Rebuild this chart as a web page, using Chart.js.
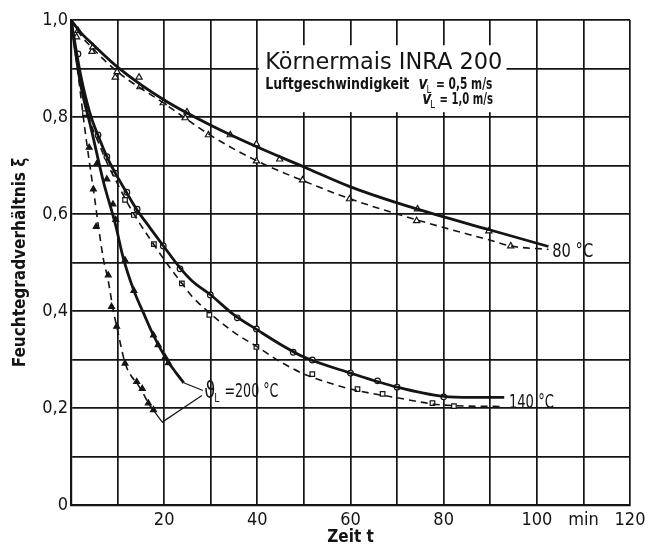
<!DOCTYPE html>
<html>
<head>
<meta charset="utf-8">
<script src="https://cdn.jsdelivr.net/npm/chart.js@4.4.1/dist/chart.umd.min.js"></script>
<style>
  html, body { margin: 0; padding: 0; background: #fff; }
  #wrap { width: 658px; height: 550px; }
</style>
</head>
<body>
<div id="wrap"><canvas id="chart" width="658" height="550"></canvas></div>
<script>
// drying curves, Zeit t (min) vs Feuchtegradverhältnis xi
// a = v_L 0,5 m/s (solid), b = v_L 1,0 m/s (dashed)
const t80a = [0, 2, 5, 10, 20, 30, 40, 50, 60, 70, 80, 90, 102.5];
const xi80a = [1.0, 0.975, 0.947, 0.903, 0.835, 0.783, 0.738, 0.697, 0.656, 0.623, 0.594, 0.567, 0.533];
const t80b = [0, 2, 5, 10, 20, 30, 40, 50, 60, 70, 80, 90, 94.4, 102.5];
const xi80b = [1.0, 0.97, 0.938, 0.893, 0.828, 0.762, 0.709, 0.668, 0.631, 0.600, 0.572, 0.546, 0.534, 0.527];

const t140a = [0, 2, 4, 6, 8, 10, 12, 14, 17, 20, 23.4, 26, 30, 35, 40, 45, 50, 60, 70, 80, 86, 93];
const xi140a = [1.0, 0.89, 0.81, 0.757, 0.712, 0.676, 0.643, 0.611, 0.571, 0.532, 0.489, 0.462, 0.433, 0.392, 0.361, 0.331, 0.305, 0.272, 0.243, 0.224, 0.222, 0.222];
const t140b = [0, 2, 4, 6, 8, 10, 12, 14, 17, 20, 23.8, 26, 30, 35, 40, 45, 50, 55, 60, 70, 80, 93];
const xi140b = [1.0, 0.88, 0.795, 0.745, 0.700, 0.662, 0.625, 0.592, 0.548, 0.506, 0.457, 0.430, 0.394, 0.356, 0.326, 0.295, 0.270, 0.253, 0.239, 0.221, 0.206, 0.203];

const t200a = [0, 2, 4.4, 7, 9.5, 11.2, 13.5, 15.6, 17.7, 20.6, 22.6, 24.2];
const xi200a = [1.0, 0.87, 0.773, 0.665, 0.58, 0.51, 0.442, 0.395, 0.35, 0.299, 0.272, 0.252];
const t200b = [0, 1.5, 3, 5, 6.9, 8, 9, 10, 11.6, 13, 14.1, 15.5, 16.6, 17.7];
const xi200b = [1.0, 0.89, 0.773, 0.637, 0.51, 0.462, 0.405, 0.36, 0.293, 0.265, 0.252, 0.23, 0.21, 0.195];

// measured points (markers)
const m80aT = [1.5, 4.7, 9.9, 14.6, 24.9, 34.2, 39.8, 44.8, 74.4, 89.7];
const m80aXi = [0.978, 0.944, 0.893, 0.882, 0.81, 0.763, 0.744, 0.713, 0.61, 0.565];
const m80bT = [1.2, 4.5, 9.5, 14.8, 19.8, 24.5, 29.5, 39.8, 49.7, 59.8, 74.2, 94.4];
const m80bXi = [0.965, 0.935, 0.882, 0.862, 0.829, 0.798, 0.763, 0.709, 0.670, 0.631, 0.586, 0.534];
const m140aT = [1.5, 5.8, 7.7, 9.5, 12, 14.2, 19.8, 23.4, 29.9, 35.7, 39.8, 47.7, 51.8, 60, 65.8, 70, 80];
const m140aXi = [0.93, 0.763, 0.718, 0.684, 0.645, 0.61, 0.534, 0.487, 0.433, 0.386, 0.363, 0.315, 0.299, 0.272, 0.256, 0.243, 0.223];
const m140bT = [3, 11.6, 13.5, 17.8, 23.8, 29.7, 39.8, 51.8, 61.5, 66.9, 77.6, 82.2];
const m140bXi = [0.808, 0.629, 0.598, 0.538, 0.457, 0.392, 0.326, 0.27, 0.239, 0.229, 0.21, 0.204];
const m200aT = [5.5, 7.7, 9, 9.6, 11.6, 13.5, 17.7, 18.7, 20.2, 20.9];
const m200aXi = [0.703, 0.672, 0.62, 0.588, 0.505, 0.442, 0.35, 0.33, 0.305, 0.293];
const m200bT = [3.9, 4.8, 5.4, 8, 8.7, 9.8, 11.6, 14.1, 15.3, 16.6, 17.7];
const m200bXi = [0.737, 0.651, 0.574, 0.474, 0.409, 0.368, 0.292, 0.254, 0.24, 0.21, 0.196];

// leader lines to the 200 °C label
const lead200aT = [24.2, 28.3];
const lead200aXi = [0.252, 0.236];
const lead200bT = [17.7, 19.6, 28.1];
const lead200bXi = [0.195, 0.171, 0.226];

// axis ticks
const tickValsX = [20, 40, 60, 80, 100, 110, 120];
const tickTextX = ['20', '40', '60', '80', '100', 'min', '120'];
const tickValsY = [0, 0.2, 0.4, 0.6, 0.8, 1.0];
const tickTextY = ['0', '0,2', '0,4', '0,6', '0,8', '1,0'];

const FONT = "'DejaVu Sans Condensed', 'Liberation Sans', sans-serif";
const INK = '#141414';

const pts = (xs, ys) => xs.map((v, i) => ({ x: v, y: ys[i] }));

function curve(xs, ys, dashed) {
  return {
    data: pts(xs, ys),
    showLine: true,
    borderColor: INK,
    borderWidth: dashed ? 1.6 : 2.8,
    borderDash: dashed ? [7, 5] : [],
    cubicInterpolationMode: 'monotone',
    pointRadius: 0,
    fill: false
  };
}

function marks(xs, ys, style, filled, r) {
  return {
    data: pts(xs, ys),
    showLine: false,
    pointStyle: style,
    pointRadius: r,
    pointBorderWidth: 1.2,
    pointBorderColor: INK,
    pointBackgroundColor: filled ? INK : '#fff'
  };
}

function leader(xs, ys) {
  return {
    data: pts(xs, ys),
    showLine: true,
    borderColor: INK,
    borderWidth: 1.2,
    tension: 0,
    pointRadius: 0
  };
}

// text squeezed to a target width (the original uses a narrow DIN face)
function fitText(ctx, text, x, y, font, width) {
  ctx.save();
  ctx.font = font;
  const m = ctx.measureText(text).width;
  const sx = width ? width / m : 0.86;
  ctx.translate(x, y);
  ctx.scale(sx, 1);
  ctx.fillText(text, 0, 0);
  ctx.restore();
  return m * sx;
}

// v_L style symbol with subscript, returns advance
function subSym(ctx, base, sub, x, y, size) {
  let w = fitText(ctx, base, x, y, 'italic bold ' + size + 'px ' + FONT, 0);
  w += fitText(ctx, sub, x + w - 1, y + size * 0.25, Math.round(size * 0.6) + 'px ' + FONT, 0);
  return w;
}

const notes = {
  id: 'notes',
  beforeDatasetsDraw(chart) {
    const { ctx, scales: { x, y } } = chart;
    const x0 = x.getPixelForValue(40.3), x1 = x.getPixelForValue(93.5);
    const y0 = y.getPixelForValue(0.948), y1 = y.getPixelForValue(0.81);
    ctx.save();
    ctx.fillStyle = '#fff';
    ctx.fillRect(x0, y0, x1 - x0, y1 - y0);
    ctx.restore();
  },
  afterDatasetsDraw(chart) {
    const { ctx, scales: { x, y } } = chart;
    ctx.save();
    ctx.fillStyle = INK;
    ctx.textAlign = 'left';
    ctx.textBaseline = 'alphabetic';

    // heading
    const hx = x.getPixelForValue(41.7);
    fitText(ctx, 'Körnermais INRA 200', hx, y.getPixelForValue(0.9), '23px ' + FONT, 237);
    fitText(ctx, 'Luftgeschwindigkeit', hx, y.getPixelForValue(0.858), 'bold 15px ' + FONT, 144);

    const vx = x.getPixelForValue(74.6);
    let ya = y.getPixelForValue(0.858);
    let w = subSym(ctx, 'v', 'L', vx, ya, 18);
    fitText(ctx, ' = 0,5 m/s', vx + w, ya, 'bold 15px ' + FONT, 60);
    const vx2 = x.getPixelForValue(75.4);
    ya = y.getPixelForValue(0.827);
    w = subSym(ctx, 'v', 'L', vx2, ya, 18);
    fitText(ctx, ' = 1,0 m/s', vx2 + w, ya, 'bold 15px ' + FONT, 57);

    // curve labels
    ctx.textBaseline = 'middle';
    fitText(ctx, '80 °C', x.getPixelForValue(103.3), y.getPixelForValue(0.522), '19px ' + FONT, 41);
    fitText(ctx, '140 °C', x.getPixelForValue(94.0), y.getPixelForValue(0.211), '19px ' + FONT, 45);

    const lx = x.getPixelForValue(28.6), ly = y.getPixelForValue(0.232);
    w = fitText(ctx, 'ϑ', lx, ly, '23px ' + FONT, 0);
    w += fitText(ctx, 'L', lx + w - 1, ly + 6, '12px ' + FONT, 0);
    fitText(ctx, ' =200 °C', lx + w, ly, '19px ' + FONT, 58);
    ctx.restore();
  }
};

new Chart(document.getElementById('chart'), {
  type: 'scatter',
  data: {
    datasets: [
      curve(t80a, xi80a, false),
      curve(t80b, xi80b, true),
      curve(t140a, xi140a, false),
      curve(t140b, xi140b, true),
      curve(t200a, xi200a, false),
      curve(t200b, xi200b, true),
      leader(lead200aT, lead200aXi),
      leader(lead200bT, lead200bXi),
      marks(m80aT, m80aXi, 'triangle', false, 3.6),
      marks(m80bT, m80bXi, 'triangle', false, 3.6),
      marks(m140aT, m140aXi, 'circle', false, 2.8),
      marks(m140bT, m140bXi, 'rect', false, 3.2),
      marks(m200aT, m200aXi, 'triangle', true, 3.4),
      marks(m200bT, m200bXi, 'triangle', true, 3.4)
    ]
  },
  options: {
    responsive: false,
    animation: false,
    devicePixelRatio: 1,
    layout: { padding: { left: 0, right: 28, top: 20, bottom: 0 } },
    plugins: {
      legend: { display: false },
      tooltip: { enabled: false }
    },
    scales: {
      x: {
        type: 'linear',
        min: 0,
        max: 120,
        ticks: {
          stepSize: 10,
          autoSkip: false,
          maxRotation: 0,
          padding: 5,
          color: INK,
          font: { family: FONT, size: 18 },
          callback: (v) => {
            const i = tickValsX.indexOf(v);
            return i >= 0 ? tickTextX[i] : '';
          }
        },
        grid: { color: INK, lineWidth: 1.7, drawTicks: false },
        border: { color: INK, width: 2.2 },
        title: {
          display: true,
          text: 'Zeit t',
          color: INK,
          font: { family: FONT, size: 17, weight: 'bold' },
          padding: { top: 0, bottom: 2 }
        },
        afterFit: (s) => { s.height = 45; }
      },
      y: {
        min: 0,
        max: 1,
        ticks: {
          stepSize: 0.1,
          autoSkip: false,
          padding: 3,
          color: INK,
          font: { family: FONT, size: 18 },
          callback: (v) => {
            const i = tickValsY.findIndex(t => Math.abs(t - v) < 1e-6);
            return i >= 0 ? tickTextY[i] : '';
          }
        },
        grid: { color: INK, lineWidth: 1.7, drawTicks: false },
        border: { color: INK, width: 2.2 },
        title: {
          display: true,
          text: 'Feuchtegradverhältnis ξ',
          color: INK,
          font: { family: FONT, size: 17, weight: 'bold' },
          padding: { top: 10, bottom: 0 }
        },
        afterFit: (s) => { s.width = 71; }
      }
    }
  },
  plugins: [notes]
});
</script>
</body>
</html>
